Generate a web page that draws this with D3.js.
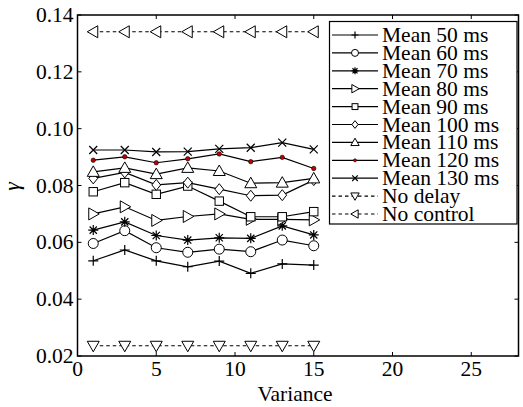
<!DOCTYPE html>
<html><head><meta charset="utf-8">
<script src="https://cdn.jsdelivr.net/npm/d3@7"></script>
<style>
html,body{margin:0;padding:0;background:#fff;}
</style></head>
<body><svg id="c" width="523" height="407"></svg>
<script>
const variance = [1,3,5,7,9,11,13,15];
const mean50  = [0.0535,0.0573,0.0535,0.0514,0.0534,0.0491,0.0524,0.0520];
const mean60  = [0.0596,0.0641,0.0581,0.0565,0.0576,0.0567,0.0608,0.0588];
const mean70  = [0.0643,0.0672,0.0624,0.0608,0.0616,0.0614,0.0658,0.0626];
const mean80  = [0.0700,0.0725,0.0677,0.0691,0.0700,0.0681,0.0681,0.0679];
const mean90  = [0.0778,0.0810,0.0769,0.0798,0.0745,0.0690,0.0690,0.0708];
const mean100 = [0.0825,0.0846,0.0802,0.0810,0.0787,0.0764,0.0766,0.0819];
const mean110 = [0.0848,0.0862,0.0840,0.0862,0.0851,0.0808,0.0810,0.0825];
const mean120 = [0.0889,0.0901,0.0880,0.0894,0.0911,0.0884,0.0899,0.0860];
const mean130 = [0.0925,0.0925,0.0918,0.0919,0.0929,0.0933,0.0951,0.0927];
const noDelay   = [0.0236,0.0236,0.0236,0.0236,0.0236,0.0236,0.0236,0.0236];
const noControl = [0.1341,0.1341,0.1341,0.1341,0.1341,0.1341,0.1341,0.1341];
const seriesNames = ["Mean 50 ms","Mean 60 ms","Mean 70 ms","Mean 80 ms","Mean 90 ms","Mean 100 ms","Mean 110 ms","Mean 120 ms","Mean 130 ms","No delay","No control"];
const xTicks = [0,5,10,15,20,25];
const yTicks = [0.02,0.04,0.06,0.08,0.10,0.12,0.14];

const series = [
  {name:seriesNames[0], v:mean50, m:"plus", dash:false},
  {name:seriesNames[1], v:mean60, m:"circle", dash:false},
  {name:seriesNames[2], v:mean70, m:"star", dash:false},
  {name:seriesNames[3], v:mean80, m:"triright", dash:false},
  {name:seriesNames[4], v:mean90, m:"square", dash:false},
  {name:seriesNames[5], v:mean100, m:"diamond", dash:false},
  {name:seriesNames[6], v:mean110, m:"triup", dash:false},
  {name:seriesNames[7], v:mean120, m:"dot", dash:false},
  {name:seriesNames[8], v:mean130, m:"x", dash:false},
  {name:seriesNames[9], v:noDelay, m:"tridown", dash:true},
  {name:seriesNames[10], v:noControl, m:"trileft", dash:true}
];

const FONT = "'Liberation Serif', 'Times New Roman', serif";
const FS = 21.5;
const svg = d3.select("#c");
const L=77.5, R=518.5, T=15, B=356;
const x = d3.scaleLinear().domain([0,28]).range([L,R]);
const y = d3.scaleLinear().domain([0.02,0.14]).range([B,T]);

function txt(g){
  return g.append("text").attr("font-family",FONT).attr("font-size",FS).attr("fill","#000")
    .style("font-family",FONT,"important").style("font-size",FS+"px","important");
}

function marker(g, type, cx, cy, s){
  const sw=1;
  if(type==="plus"){
    const r=5*s;
    g.append("path").attr("d",`M${cx-r},${cy}H${cx+r}M${cx},${cy-r}V${cy+r}`).attr("stroke","#000").attr("stroke-width",1.2);
  } else if(type==="x"){
    const r=4*s;
    g.append("path").attr("d",`M${cx-r},${cy-r}L${cx+r},${cy+r}M${cx-r},${cy+r}L${cx+r},${cy-r}`).attr("stroke","#000").attr("stroke-width",1.2);
  } else if(type==="star"){
    const r=5*s;
    let d=`M${cx-r},${cy}H${cx+r}M${cx},${cy-r}V${cy+r}`;
    const k=r*0.72;
    d+=`M${cx-k},${cy-k}L${cx+k},${cy+k}M${cx-k},${cy+k}L${cx+k},${cy-k}`;
    g.append("path").attr("d",d).attr("stroke","#000").attr("stroke-width",1.2);
  } else if(type==="circle"){
    g.append("circle").attr("cx",cx).attr("cy",cy).attr("r",5*s).attr("fill","#fff").attr("stroke","#000").attr("stroke-width",sw);
  } else if(type==="square"){
    const r=4.2*s;
    g.append("rect").attr("x",cx-r).attr("y",cy-r).attr("width",2*r).attr("height",2*r).attr("fill","#fff").attr("stroke","#000").attr("stroke-width",sw);
  } else if(type==="diamond"){
    const r=5.5*s;
    g.append("path").attr("d",`M${cx},${cy-r}L${cx+r*0.8},${cy}L${cx},${cy+r}L${cx-r*0.8},${cy}Z`).attr("fill","#fff").attr("stroke","#000").attr("stroke-width",sw);
  } else if(type==="dot"){
    g.append("circle").attr("cx",cx).attr("cy",cy).attr("r",2.2*s).attr("fill","#c00000").attr("stroke","#000").attr("stroke-width",0.6);
  } else if(type.startsWith("tri")){
    const r=6*s;
    let pts;
    if(type==="triup") pts=[[0,-r],[r,r*0.75],[-r,r*0.75]];
    else if(type==="tridown") pts=[[0,r],[r,-r*0.75],[-r,-r*0.75]];
    else if(type==="triright") pts=[[r,0],[-r*0.75,-r],[-r*0.75,r]];
    else pts=[[-r,0],[r*0.75,-r],[r*0.75,r]];
    g.append("path").attr("d","M"+pts.map(p=>(cx+p[0])+","+(cy+p[1])).join("L")+"Z").attr("fill","#fff").attr("stroke","#000").attr("stroke-width",sw);
  }
}

const line = d3.line().x((d,i)=>x(variance[i])).y(d=>y(d));
const plot = svg.append("g");
series.forEach(s=>{
  plot.append("path").attr("d",line(s.v)).attr("fill","none").attr("stroke","#000").attr("stroke-width",1.2)
    .attr("stroke-dasharray",s.dash?"3.5,3":null);
});
series.forEach(s=>{
  const g=plot.append("g");
  s.v.forEach((d,i)=>marker(g,s.m,x(variance[i]),y(d),1));
});

const tl=4;
const ax = svg.append("g");
ax.append("rect").attr("x",L).attr("y",T).attr("width",R-L).attr("height",B-T).attr("fill","none").attr("stroke","#000").attr("stroke-width",1.5);
xTicks.forEach(t=>{
  ax.append("line").attr("x1",x(t)).attr("x2",x(t)).attr("y1",B).attr("y2",B-tl).attr("stroke","#000");
  ax.append("line").attr("x1",x(t)).attr("x2",x(t)).attr("y1",T).attr("y2",T+tl).attr("stroke","#000");
  txt(ax).attr("x",x(t)).attr("y",B+20).attr("text-anchor","middle").text(t);
});
yTicks.forEach(t=>{
  ax.append("line").attr("x1",L).attr("x2",L+tl).attr("y1",y(t)).attr("y2",y(t)).attr("stroke","#000");
  ax.append("line").attr("x1",R).attr("x2",R-tl).attr("y1",y(t)).attr("y2",y(t)).attr("stroke","#000");
  txt(ax).attr("x",L-4).attr("y",y(t)+7).attr("text-anchor","end").text(t.toFixed(2));
});
txt(svg).attr("x",(L+R)/2-3).attr("y",401).attr("text-anchor","middle").text("Variance");
txt(svg).attr("transform",`translate(19,${(T+B)/2+1}) rotate(-90)`).attr("text-anchor","middle").style("font-style","italic").text("γ");

const lg = svg.append("g");
const lx0=329.5, ly0=21.5, lw=187.5, lh=202.5;
lg.append("rect").attr("x",lx0).attr("y",ly0).attr("width",lw).attr("height",lh).attr("fill","#fff").attr("stroke","#000").attr("stroke-width",1.2);
series.forEach((s,i)=>{
  const cy = 35 + i*17.9;
  lg.append("line").attr("x1",332).attr("x2",378).attr("y1",cy).attr("y2",cy).attr("stroke","#000").attr("stroke-width",1.2)
    .attr("stroke-dasharray",s.dash?"3.5,3":null);
  marker(lg,s.m,355,cy,0.7);
  txt(lg).attr("x",382).attr("y",cy+7).text(s.name);
});
</script></body></html>
